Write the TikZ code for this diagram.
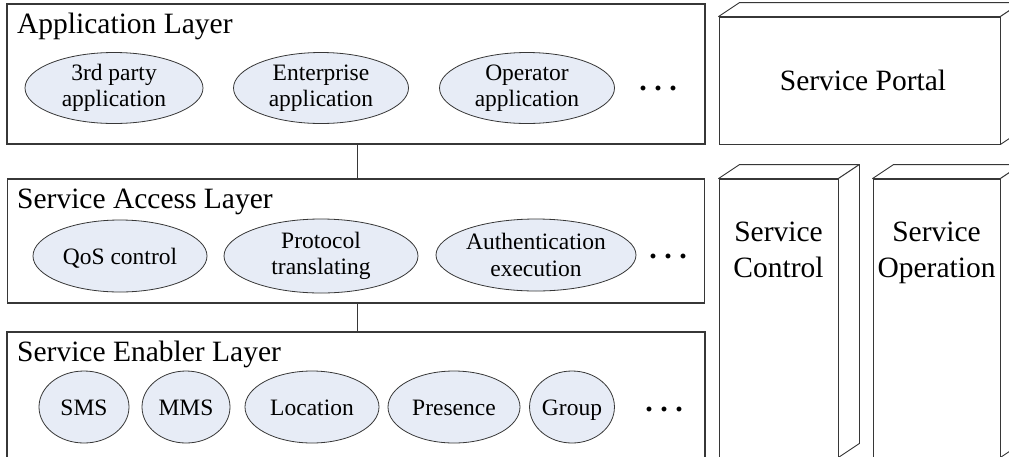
\documentclass[tikz,border=0pt]{standalone}
\usepackage{fontspec}
\setmainfont{Liberation Serif}
\usetikzlibrary{shapes.geometric}
\definecolor{ovalfill}{RGB}{231,236,246}
\definecolor{edge}{RGB}{55,55,55}

% depth faces (top and right side) of a box whose front face is node #1
\newcommand\drawdepth[1]{%
  \draw[sideface] (#1.north west) -- ++(21,-14)
    -- ([shift={(21,-14)}]#1.north east) -- (#1.north east) -- cycle;
  \draw[sideface] (#1.north east) -- ([shift={(21,-14)}]#1.north east)
    -- ([shift={(21,-14)}]#1.south east) -- (#1.south east) -- cycle;}

\begin{document}
\begin{tikzpicture}[x=1pt,y=-1pt,
  layer/.style={draw=edge,line width=1.1pt,rectangle,inner sep=0pt,fill=white},
  oval/.style={draw=edge,line width=0.8pt,ellipse,fill=ovalfill,inner sep=0pt,
    align=center,font=\fontsize{23.5}{26.5}\selectfont},
  onerow/.style={text height=17pt,text depth=1pt},
  title/.style={anchor=base west,inner sep=0pt,font=\fontsize{29.5}{36}\selectfont},
  dots/.style={anchor=base,inner sep=0pt,font=\fontsize{30}{36}\selectfont\bfseries},
  face/.style={draw=edge,line width=0.9pt,fill=white,inner sep=0pt,rectangle,
    align=center,font=\fontsize{29.5}{36}\selectfont},
  sideface/.style={draw=edge,line width=0.9pt,fill=white,line join=round},
  link/.style={draw=edge,line width=0.9pt}]
\useasboundingbox (0,0) rectangle (1009,456);
\clip (0,0) rectangle (1009,456);

% ---- layer boxes ----
\node[layer,minimum width=698,minimum height=140] (app) at (356,74) {};
\node[layer,minimum width=697,minimum height=124] (acc) at (356,241) {};
\node[layer,minimum width=698,minimum height=138] (ena) at (356,401) {};

\node[title] (apptitle) at (17,33) {Application Layer};
\node[title] (acctitle) at (17,208) {Service Access Layer};
\node[title] (enatitle) at (17,361) {Service Enabler Layer};

% ---- links between layers ----
\coordinate (spine) at (357,0);
\draw[link] (app.south -| spine) -- (acc.north -| spine);
\draw[link] (acc.south -| spine) -- (ena.north -| spine);

% ---- application layer ----
\node[oval,minimum width=178,minimum height=71] (third) at (114,88) {3rd party\\application};
\node[oval,minimum width=175,minimum height=71] (ent) at (321,88) {Enterprise\\application};
\node[oval,minimum width=175,minimum height=71] (oper) at (527,88) {Operator\\application};
\node[dots] (appdots) at (658,90) {.\ .\ .};

% ---- service access layer ----
\node[oval,onerow,minimum width=174,minimum height=72] (qos) at (120,256) {QoS control};
\node[oval,minimum width=194,minimum height=74] (proto) at (321,256) {Protocol\\translating};
\node[oval,minimum width=200,minimum height=72] (auth) at (536,255) {Authentication\\execution};
\node[dots] (accdots) at (668,258) {.\ .\ .};

% ---- service enabler layer ----
\node[oval,onerow,minimum width=90,minimum height=72] (sms) at (84,407) {SMS};
\node[oval,onerow,minimum width=88,minimum height=72] (mms) at (186,407) {MMS};
\node[oval,onerow,minimum width=134,minimum height=72] (loc) at (312,407) {Location};
\node[oval,onerow,minimum width=132,minimum height=72] (pres) at (454,407) {Presence};
\node[oval,onerow,minimum width=82,minimum height=72] (grp) at (572,407) {Group};
\node[dots] (enadots) at (664,411) {.\ .\ .};

% ---- side blocks ----
\node[face,minimum width=281,minimum height=127] (portal) at (859.5,80.5) {};
\drawdepth{portal}
\node[inner sep=0pt,font=\fontsize{29.5}{36}\selectfont] (portaltext)
  at (863,80.5) {Service Portal};

\node[face,minimum width=119,minimum height=278] (ctrl) at (778.5,318) {};
\drawdepth{ctrl}
\node[anchor=north,inner sep=0pt,align=center,font=\fontsize{29.5}{36}\selectfont]
  (ctrltext) at (ctrl.north |- 0,222) {Service\\Control};

\node[face,minimum width=127,minimum height=278] (oper2) at (936.5,318) {};
\drawdepth{oper2}
\node[anchor=north,inner sep=0pt,align=center,font=\fontsize{29.5}{36}\selectfont]
  (opertext) at (oper2.north |- 0,222) {Service\\Operation};
\end{tikzpicture}
\end{document}
